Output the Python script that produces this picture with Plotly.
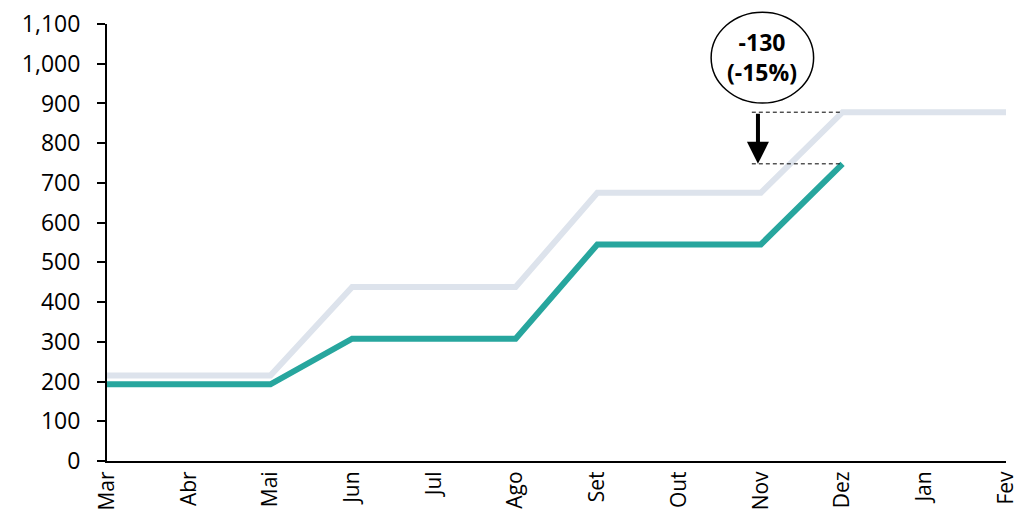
import plotly.graph_objects as go

meses = ["Mar", "Abr", "Mai", "Jun", "Jul", "Ago", "Set", "Out", "Nov", "Dez", "Jan", "Fev"]
plano = [215, 215, 215, 438, 438, 438, 675, 675, 675, 878, 878, 878]
real = [193, 193, 193, 308, 308, 308, 545, 545, 545, 748]
y_ticks = list(range(0, 1101, 100))

topo = plano[9]
atual = real[9]
dif = atual - topo
dif_pct = dif / topo

cor_plano = "#DDE3EC"
cor_real = "#27A69E"
fonte = "Open Sans"

fig = go.Figure()
fig.add_trace(go.Scatter(x=meses, y=plano, mode="lines",
                         line=dict(color=cor_plano, width=6), cliponaxis=False))
fig.add_trace(go.Scatter(x=meses[:len(real)], y=real, mode="lines",
                         line=dict(color=cor_real, width=6), cliponaxis=False))

# linhas tracejadas de referencia
for v in (topo, atual):
    fig.add_shape(type="line", xref="x", yref="y", x0=7.89, x1=9, y0=v, y1=v,
                  line=dict(color="black", width=1, dash="4px,3px"))

# seta da diferenca
fig.add_annotation(x=7.965, y=atual, ax=7.965, ay=topo, xref="x", yref="y",
                   axref="x", ayref="y", text="", showarrow=True,
                   arrowhead=2, arrowsize=1.1, arrowwidth=4, arrowcolor="black",
                   standoff=0, startstandoff=0)

# balao com o valor
fig.add_shape(type="circle", xref="paper", yref="paper",
              x0=0.672, x1=0.786, y0=0.819, y1=1.027,
              line=dict(color="black", width=1.5), fillcolor="white")
fig.add_annotation(x=0.729, y=0.925, xref="paper", yref="paper",
                   xanchor="center", yanchor="middle",
                   text="<b>%d<br>(%d%%)</b>" % (dif, round(dif_pct * 100)),
                   showarrow=False, font=dict(family=fonte, size=23, color="black"))

# a pagina tem 8px de margem no body: figura um pouco menor que a janela
fig.update_layout(
    width=1014, height=506,
    margin=dict(l=99, r=16, t=16, b=53),
    paper_bgcolor="white", plot_bgcolor="white",
    showlegend=False,
    font=dict(family=fonte, size=23, color="black"),
    xaxis=dict(type="category", range=[0, 11], showgrid=False, showline=True,
               linecolor="black", linewidth=2, ticks="", tickangle=-90,
               tickfont=dict(size=21), zeroline=False, automargin=False),
    yaxis=dict(range=[0, 1100], tickvals=y_ticks, tickformat=",", showgrid=False,
               showline=True, linecolor="black", linewidth=2, ticks="outside",
               ticklen=8, tickwidth=1.5, tickcolor="black", zeroline=False,
               automargin=False, ticklabeloverflow="allow", ticklabelstandoff=12),
)

fig.write_html("out.html")
